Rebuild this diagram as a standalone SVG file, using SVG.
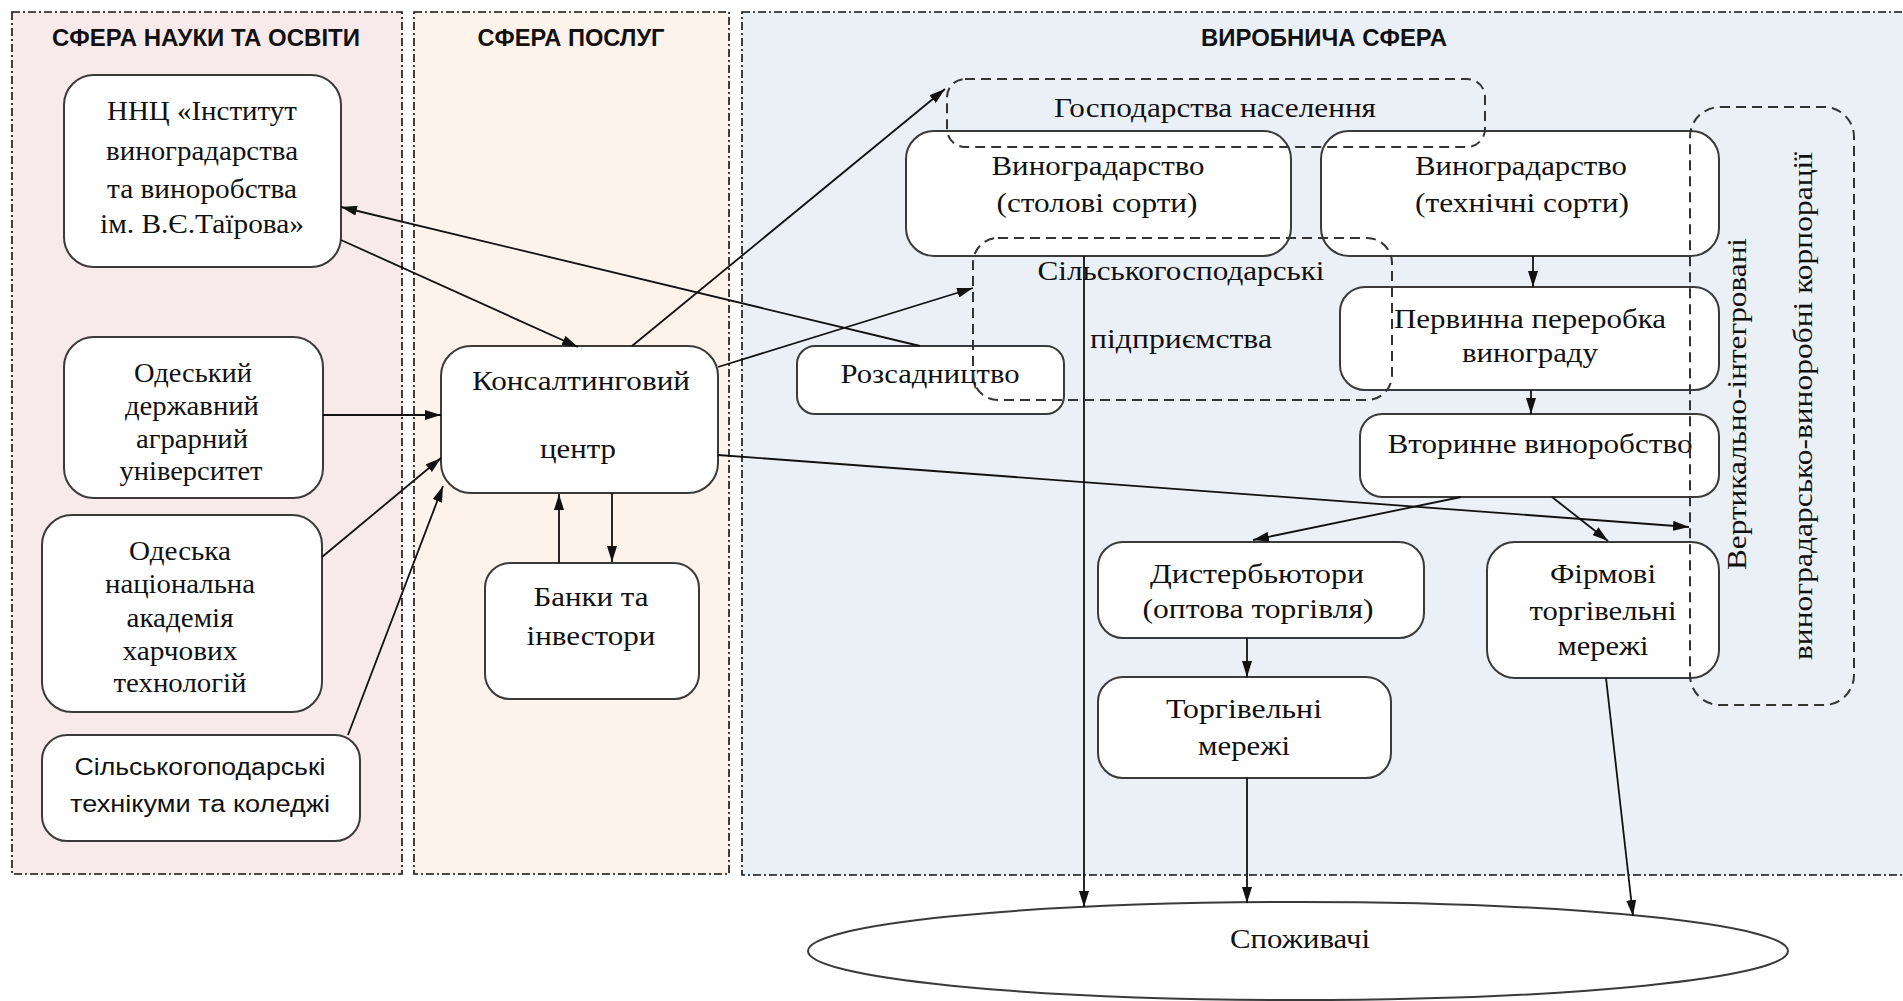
<svg xmlns="http://www.w3.org/2000/svg" width="1903" height="1001" viewBox="0 0 1903 1001">
<defs>
<style>
.panel{stroke:#111;stroke-width:1.6;stroke-dasharray:8 3 2 3}
.node{fill:#fff;stroke:#3a3a3a;stroke-width:2}
.grp{fill:none;stroke:#333;stroke-width:2;stroke-dasharray:10 6}
.t{font-family:"Liberation Serif","Times New Roman",serif;font-size:27px;fill:#111;text-anchor:middle}
.s{font-family:"Liberation Sans",Arial,sans-serif;font-size:23px;fill:#111;text-anchor:middle}
.h{font-family:"Liberation Sans",Arial,sans-serif;font-size:24px;font-weight:bold;fill:#111;text-anchor:middle}
.c{fill:none;stroke:#111;stroke-width:1.8}
.a{marker-end:url(#arr)}
</style>
<marker id="arr" viewBox="0 0 16 10" refX="16" refY="5" markerUnits="userSpaceOnUse" markerWidth="16" markerHeight="10" orient="auto">
<path d="M0,0 L16,5 L0,10 z" fill="#111"/>
</marker>
</defs>
<rect width="1903" height="1001" fill="#fff"/>
<g id="panels">
<rect class="panel" x="12" y="12" width="390" height="862" fill="#f8eaea"/>
<rect class="panel" x="414" y="12" width="315" height="862" fill="#fdf3ea"/>
<rect class="panel" x="742" y="12" width="1170" height="863" fill="#ebf0f7"/>
<text class="h" x="206" y="46" textLength="308" lengthAdjust="spacingAndGlyphs">СФЕРА НАУКИ ТА ОСВІТИ</text>
<text class="h" x="571" y="46" textLength="187" lengthAdjust="spacingAndGlyphs">СФЕРА ПОСЛУГ</text>
<text class="h" x="1324" y="46" textLength="246" lengthAdjust="spacingAndGlyphs">ВИРОБНИЧА СФЕРА</text>
</g>
<g id="n-nnc">
<rect class="node" x="64" y="75" width="277" height="192" rx="30"/>
<text class="t" x="202" y="120" textLength="190" lengthAdjust="spacingAndGlyphs">ННЦ «Інститут</text>
<text class="t" x="202" y="160" textLength="192" lengthAdjust="spacingAndGlyphs">виноградарства</text>
<text class="t" x="202" y="198" textLength="190" lengthAdjust="spacingAndGlyphs">та виноробства</text>
<text class="t" x="202" y="233" textLength="204" lengthAdjust="spacingAndGlyphs">ім. В.Є.Таїрова»</text>
</g>
<g id="n-odau">
<rect class="node" x="64" y="337" width="259" height="161" rx="30"/>
<text class="t" x="193" y="382" textLength="118" lengthAdjust="spacingAndGlyphs">Одеський</text>
<text class="t" x="192" y="415" textLength="134" lengthAdjust="spacingAndGlyphs">державний</text>
<text class="t" x="192" y="448" textLength="112" lengthAdjust="spacingAndGlyphs">аграрний</text>
<text class="t" x="191" y="480" textLength="143" lengthAdjust="spacingAndGlyphs">університет</text>
</g>
<g id="n-onaft">
<rect class="node" x="42" y="515" width="280" height="197" rx="30"/>
<text class="t" x="180" y="560" textLength="102" lengthAdjust="spacingAndGlyphs">Одеська</text>
<text class="t" x="180" y="593" textLength="150" lengthAdjust="spacingAndGlyphs">національна</text>
<text class="t" x="180" y="627" textLength="107" lengthAdjust="spacingAndGlyphs">академія</text>
<text class="t" x="180" y="660" textLength="115" lengthAdjust="spacingAndGlyphs">харчових</text>
<text class="t" x="180" y="692" textLength="133" lengthAdjust="spacingAndGlyphs">технологій</text>
</g>
<g id="n-tech">
<rect class="node" x="42" y="735" width="318" height="106" rx="25"/>
<text class="s" x="200" y="775" textLength="251" lengthAdjust="spacingAndGlyphs">Сільськогоподарські</text>
<text class="s" x="200" y="812" textLength="260" lengthAdjust="spacingAndGlyphs">технікуми та коледжі</text>
</g>
<g id="n-consult">
<rect class="node" x="441" y="346" width="277" height="147" rx="30"/>
<text class="t" x="581" y="390" textLength="218" lengthAdjust="spacingAndGlyphs">Консалтинговий</text>
<text class="t" x="578" y="458" textLength="76" lengthAdjust="spacingAndGlyphs">центр</text>
</g>
<g id="n-banks">
<rect class="node" x="485" y="563" width="214" height="136" rx="25"/>
<text class="t" x="591" y="606" textLength="115" lengthAdjust="spacingAndGlyphs">Банки та</text>
<text class="t" x="591" y="645" textLength="129" lengthAdjust="spacingAndGlyphs">інвестори</text>
</g>
<g id="n-nursery">
<rect class="node" x="797" y="346" width="267" height="68" rx="18"/>
<text class="t" x="930" y="383" textLength="179" lengthAdjust="spacingAndGlyphs">Розсадництво</text>
</g>
<g id="n-table">
<rect class="node" x="906" y="131" width="385" height="125" rx="28"/>
<text class="t" x="1098" y="175" textLength="213" lengthAdjust="spacingAndGlyphs">Виноградарство</text>
<text class="t" x="1097" y="212" textLength="201" lengthAdjust="spacingAndGlyphs">(столові сорти)</text>
</g>
<g id="n-tech-grapes">
<rect class="node" x="1321" y="131" width="398" height="125" rx="28"/>
<text class="t" x="1521" y="175" textLength="212" lengthAdjust="spacingAndGlyphs">Виноградарство</text>
<text class="t" x="1522" y="212" textLength="214" lengthAdjust="spacingAndGlyphs">(технічні сорти)</text>
</g>
<g id="n-primary">
<rect class="node" x="1340" y="287" width="379" height="103" rx="25"/>
<text class="t" x="1530" y="328" textLength="272" lengthAdjust="spacingAndGlyphs">Первинна переробка</text>
<text class="t" x="1530" y="362" textLength="136" lengthAdjust="spacingAndGlyphs">винограду</text>
</g>
<g id="n-secondary">
<rect class="node" x="1360" y="414" width="359" height="83" rx="22"/>
<text class="t" x="1540" y="453" textLength="305" lengthAdjust="spacingAndGlyphs">Вторинне виноробство</text>
</g>
<g id="n-distrib">
<rect class="node" x="1098" y="542" width="326" height="96" rx="25"/>
<text class="t" x="1257" y="583" textLength="214" lengthAdjust="spacingAndGlyphs">Дистербьютори</text>
<text class="t" x="1258" y="618" textLength="231" lengthAdjust="spacingAndGlyphs">(оптова торгівля)</text>
</g>
<g id="n-brand">
<rect class="node" x="1487" y="542" width="232" height="136" rx="28"/>
<text class="t" x="1603" y="583" textLength="106" lengthAdjust="spacingAndGlyphs">Фірмові</text>
<text class="t" x="1603" y="620" textLength="147" lengthAdjust="spacingAndGlyphs">торгівельні</text>
<text class="t" x="1603" y="655" textLength="91" lengthAdjust="spacingAndGlyphs">мережі</text>
</g>
<g id="n-retail">
<rect class="node" x="1098" y="677" width="293" height="101" rx="25"/>
<text class="t" x="1244" y="718" textLength="156" lengthAdjust="spacingAndGlyphs">Торгівельні</text>
<text class="t" x="1244" y="755" textLength="92" lengthAdjust="spacingAndGlyphs">мережі</text>
</g>
<g id="n-consumers">
<ellipse class="node" cx="1298" cy="951" rx="490" ry="49"/>
<text class="t" x="1300" y="948" textLength="140" lengthAdjust="spacingAndGlyphs">Споживачі</text>
</g>
<g id="connectors">
<line class="c a" x1="920" y1="346" x2="341" y2="207"/>
<line class="c a" x1="341" y1="240" x2="578" y2="347"/>
<line class="c a" x1="632" y1="346" x2="945" y2="89"/>
<line class="c a" x1="718" y1="367" x2="973" y2="288"/>
<line class="c a" x1="718" y1="455" x2="1689" y2="527"/>
<line class="c a" x1="323" y1="415" x2="441" y2="415"/>
<line class="c a" x1="322" y1="557" x2="441" y2="458"/>
<line class="c a" x1="348" y1="735" x2="443" y2="486"/>
<line class="c a" x1="559" y1="563" x2="559" y2="494"/>
<line class="c a" x1="612" y1="493" x2="612" y2="562"/>
<line class="c a" x1="1533" y1="256" x2="1533" y2="287"/>
<line class="c a" x1="1531" y1="390" x2="1531" y2="414"/>
<line class="c a" x1="1461" y1="497" x2="1253" y2="540"/>
<line class="c a" x1="1552" y1="497" x2="1608" y2="541"/>
<line class="c a" x1="1247" y1="638" x2="1247" y2="677"/>
<line class="c a" x1="1247" y1="778" x2="1247" y2="903"/>
<line class="c a" x1="1084" y1="256" x2="1084" y2="907"/>
<line class="c a" x1="1606" y1="678" x2="1633" y2="916"/>
</g>
<g id="g-households">
<rect class="grp" x="947" y="79" width="538" height="68" rx="18"/>
<text class="t" x="1215" y="117" textLength="322" lengthAdjust="spacingAndGlyphs">Господарства населення</text>
</g>
<g id="g-agri">
<rect class="grp" x="973" y="238" width="419" height="162" rx="25"/>
<text class="t" x="1181" y="280" textLength="287" lengthAdjust="spacingAndGlyphs">Сільськогосподарські</text>
<text class="t" x="1181" y="348" textLength="182" lengthAdjust="spacingAndGlyphs">підприємства</text>
</g>
<g id="g-corp">
<rect class="grp" x="1690" y="107" width="164" height="598" rx="30"/>
<text class="t" transform="translate(1746,404) rotate(-90)" x="0" y="0" textLength="332" lengthAdjust="spacingAndGlyphs">Вертикально-інтегровані</text>
<text class="t" transform="translate(1812,406) rotate(-90)" x="0" y="0" textLength="508" lengthAdjust="spacingAndGlyphs">виноградарсько-виноробні корпорації</text>
</g>
</svg>
